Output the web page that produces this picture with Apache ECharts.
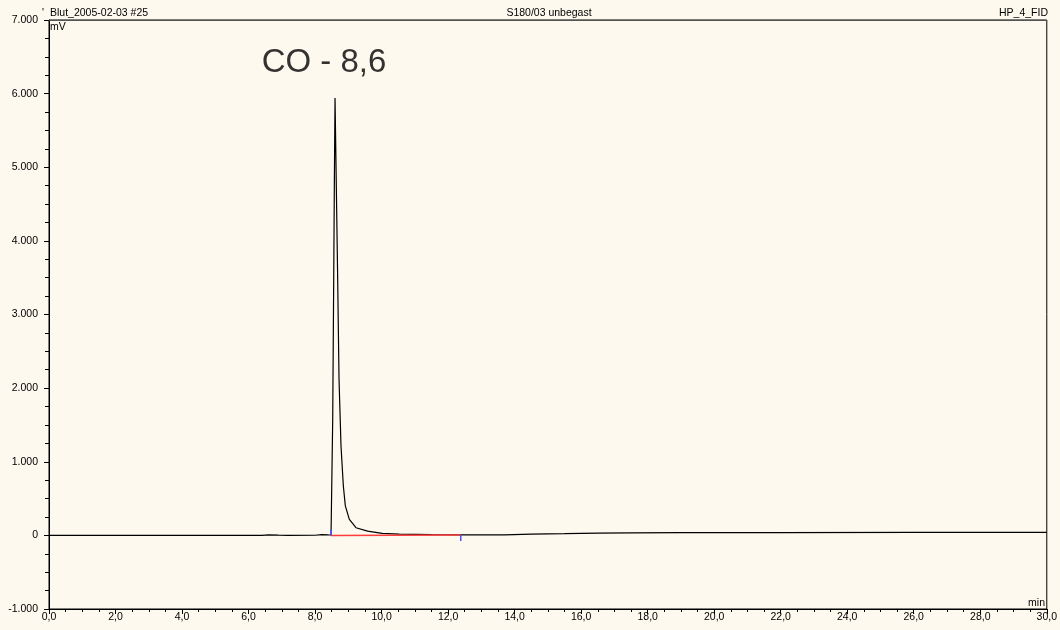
<!DOCTYPE html>
<html>
<head>
<meta charset="utf-8">
<script src="https://cdn.jsdelivr.net/npm/echarts@6/dist/echarts.min.js"></script>
<style>
  html, body { margin: 0; padding: 0; background: #fdf9ee; }
  #chart { width: 1060px; height: 630px; }
</style>
</head>
<body>
<div id="chart"></div>
<script>
// retention time (min) and detector signal (mV)
const timeMin = [0, 6.4, 6.6, 6.9, 7.2, 8.0, 8.2, 8.4, 8.48, 8.53, 8.56, 8.58, 8.60, 8.64,
  8.68, 8.72, 8.78, 8.85, 8.91, 9.03, 9.23, 9.58, 10.02, 10.53, 11.5, 12.4, 13.7, 14.5,
  15.5, 16.5, 17.5, 19, 22, 26, 30];
const signalMv = [0, 0, 8, 3, 0, 2, 10, 6, 5, 1570, 3470, 4800, 5940, 4700,
  3470, 2120, 1210, 670, 400, 217, 104, 58, 27, 18, 10, 8, 8, 18,
  24, 31, 34, 36, 38, 40, 42];

// integration of the CO peak
const peakStart = 8.48;
const peakEnd = 12.38;
const baseStartMv = 0;
const baseEndMv = 5;
const markerMv = 80;

const peakLabel = 'CO - 8,6';
const peakApex = [8.60, 5940];

const headerLeft = 'Blut_2005-02-03 #25';
const headerMid = 'S180/03 unbegast';
const headerRight = 'HP_4_FID';

const FONT = '"Liberation Sans", Arial, sans-serif';
const SMALL = '10.5px ' + FONT;

const fmtY = (v) => {
  const s = String(Math.abs(v)).replace(/\B(?=(\d{3})+(?!\d))/g, '.');
  return v < 0 ? '-' + s : s;
};
const fmtX = v => v.toFixed(1).replace('.', ',');

const chart = echarts.init(document.getElementById('chart'));

const signal = timeMin.map((t, i) => [t, signalMv[i]]);

chart.setOption({
  backgroundColor: '#fdf9ee',
  animation: false,
  grid: {
    left: 49, right: 11, top: 20, bottom: 21,
    show: true, borderColor: '#000', borderWidth: 1, backgroundColor: 'transparent',
  },
  xAxis: [{
    type: 'value',
    min: 0,
    max: 30,
    interval: 2,
    axisLine: { onZero: false, lineStyle: { color: '#000', width: 1 } },
    axisTick: { length: 5, lineStyle: { color: '#000' } },
    minorTick: { show: true, splitNumber: 4, length: 3, lineStyle: { color: '#000' } },
    splitLine: { show: false },
    axisLabel: { formatter: fmtX, color: '#000', fontSize: 10.5, fontFamily: FONT, margin: 3 },
  }, {
    type: 'value',
    position: 'top',
    min: 0,
    max: 30,
    axisLine: { show: true, onZero: false, lineStyle: { color: '#555', width: 1 } },
    axisTick: { show: false },
    axisLabel: { show: false },
    splitLine: { show: false },
  }],
  yAxis: {
    type: 'value',
    min: -1000,
    max: 7000,
    interval: 1000,
    axisLine: { show: true, onZero: false, lineStyle: { color: '#000', width: 1 } },
    axisTick: { show: true, length: 5, lineStyle: { color: '#000' } },
    minorTick: { show: true, splitNumber: 4, length: 4, lineStyle: { color: '#000' } },
    splitLine: { show: false },
    axisLabel: { formatter: fmtY, color: '#000', fontSize: 10.5, fontFamily: FONT, margin: 11 },
  },
  series: [
    {
      type: 'line',
      data: signal,
      showSymbol: false,
      lineStyle: { color: '#000', width: 1.2 },
      z: 2,
    },
    {
      type: 'line',
      data: [[peakStart, baseStartMv], [peakEnd, baseEndMv]],
      showSymbol: false,
      lineStyle: { color: '#ff3b3b', width: 1.5 },
      z: 3,
    },
    {
      type: 'line',
      data: [[peakStart, baseStartMv], [peakStart, baseStartMv + markerMv]],
      showSymbol: false,
      lineStyle: { color: '#4f4fff', width: 1.5 },
      z: 4,
    },
    {
      type: 'line',
      data: [[peakEnd, baseEndMv], [peakEnd, baseEndMv - markerMv]],
      showSymbol: false,
      lineStyle: { color: '#4f4fff', width: 1.5 },
      z: 4,
    },
    {
      // peak name above the apex
      type: 'scatter',
      data: [peakApex],
      symbolSize: 0,
      silent: true,
      z: 5,
      label: {
        show: true,
        position: 'top',
        formatter: peakLabel,
        color: '#000',
        fontSize: 33,
        fontFamily: FONT,
        offset: [-11, -14],
      },
    },
  ],
  graphic: [
    { type: 'text', left: 42, top: 8, style: { text: '\'', fill: '#000', font: SMALL } },
    { type: 'text', left: 50, top: 8, style: { text: headerLeft, fill: '#000', font: SMALL } },
    { type: 'text', x: 549, y: 8, style: { text: headerMid, fill: '#000', font: SMALL, textAlign: 'center' } },
    { type: 'text', x: 1048, y: 8, style: { text: headerRight, fill: '#000', font: SMALL, textAlign: 'right' } },
    { type: 'text', left: 50, top: 22, style: { text: 'mV', fill: '#000', font: SMALL } },
    { type: 'text', x: 1045, y: 598, style: { text: 'min', fill: '#000', font: SMALL, textAlign: 'right' } },
  ],
});
</script>
</body>
</html>
